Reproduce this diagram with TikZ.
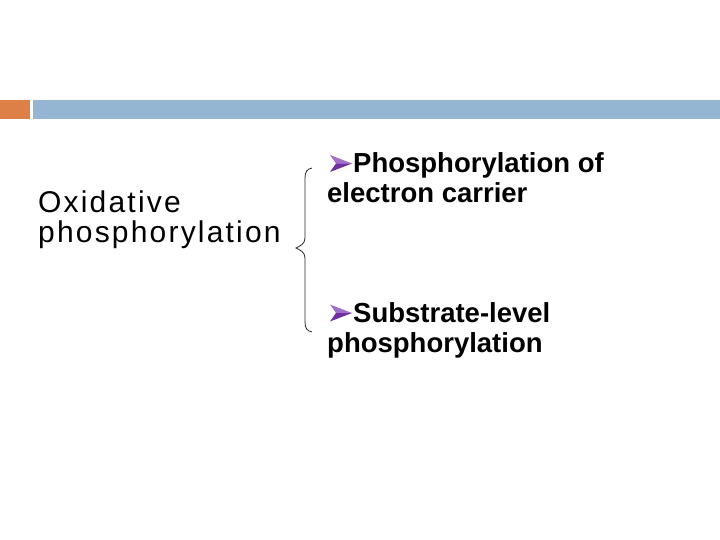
\documentclass[tikz,border=0pt]{standalone}
\usepackage{fontspec}
\setmainfont{Liberation Sans}
\newfontfamily\leftfont[LetterSpace=7.3]{Liberation Sans}
\definecolor{barorange}{HTML}{DD8047}
\definecolor{barblue}{HTML}{94B6D2}
\definecolor{bullpurple}{HTML}{7030A0}
\definecolor{bullpurplelt}{HTML}{A070C8}
\begin{document}
\begin{tikzpicture}[x=1pt,y=-1pt,
  lefttext/.style={anchor=north west,inner sep=0pt,align=left,font=\leftfont\fontsize{30}{30}\selectfont},
  righttext/.style={anchor=base west,inner sep=0pt,font=\bfseries\fontsize{27.5}{30}\selectfont},
  bracestyle/.style={draw=black!85,line width=0.8pt}]
\useasboundingbox[fill=white] (0,0) rectangle (720,540);
% header bars
\fill[barorange] (0,100) rectangle (30,119);
\fill[barblue] (33,100) rectangle (720,119);
% left text
\node[lefttext] (ox) at (38,190.1) {Oxidative\\phosphorylation};
% brace
\draw[bracestyle] (312,168) .. controls (307,169) and (305,172) .. (305,178)
  -- (305,238) .. controls (305,244) and (300,246) .. (296,248)
  .. controls (300,250) and (305,252) .. (305,258)
  -- (305,322) .. controls (305,328) and (307,331) .. (312,332);
% bullets
\foreach \y/\n in {163.5/b1, 313/b2}{
  \fill[bullpurplelt] (330,\y-8.5) -- (352,\y) -- (336,\y) -- cycle;
  \fill[bullpurple] (336,\y) -- (352,\y) -- (330,\y+8.5) -- cycle;
  \coordinate (\n) at (341,\y);
}
% right text
\node[righttext] (r1) at (353,173) {Phosphorylation of};
\node[righttext] (r2) at (327,203) {electron carrier};
\node[righttext] (r3) at (353,322) {Substrate-level};
\node[righttext] (r4) at (327,352) {phosphorylation};
\end{tikzpicture}
\end{document}
